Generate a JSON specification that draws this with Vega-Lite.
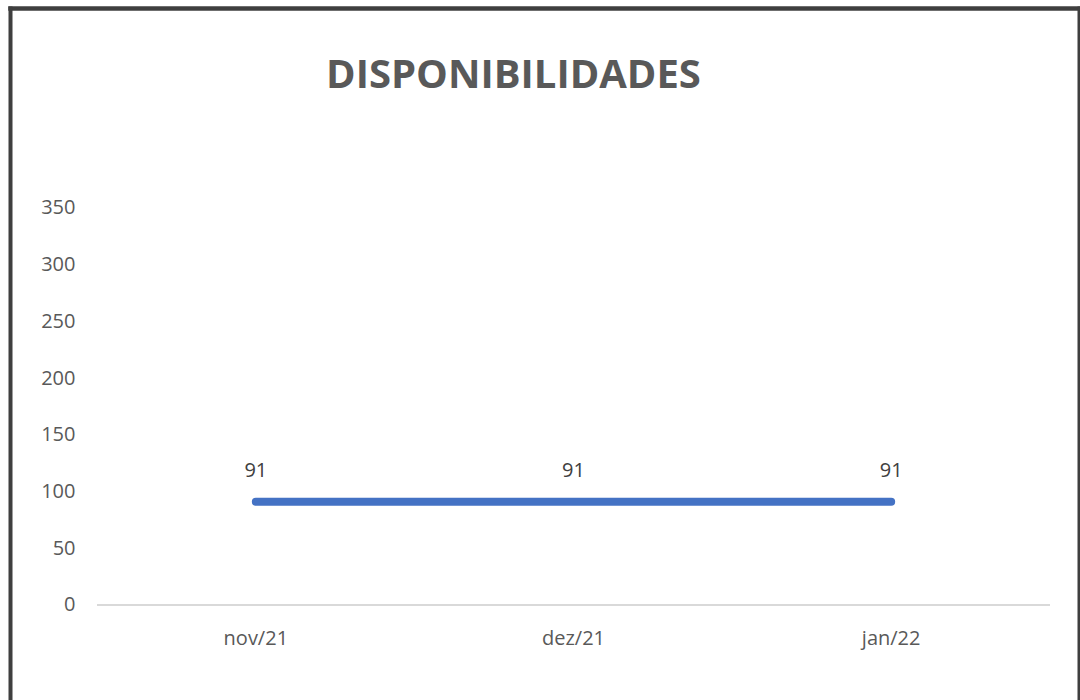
{
  "$schema": "https://vega.github.io/schema/vega-lite/v6.json",
  "width": 1069,
  "height": 692,
  "autosize": {"type": "none"},
  "padding": {"left": 10, "top": 8, "right": 1, "bottom": 0},
  "background": "white",
  "config": {"view": {"stroke": null}, "axis": {"grid": false}},
  "title": {
    "text": "DISPONIBILIDADES",
    "font": "Open Sans",
    "fontSize": 40,
    "fontWeight": "bold",
    "color": "#595959",
    "anchor": "middle",
    "frame": "group",
    "dx": -31,
    "offset": -120,
    "baseline": "alphabetic"
  },
  "data": {
    "values": [
      {"mes": "nov/21", "valor": 91},
      {"mes": "dez/21", "valor": 91},
      {"mes": "jan/22", "valor": 91}
    ]
  },
  "layer": [
    {
      "data": {"values": [{"inicio": "nov/21", "fim": "jan/22", "zero": 0}]},
      "mark": {"type": "rule", "color": "#d9d9d9", "strokeWidth": 2},
      "encoding": {
        "x": {
          "field": "inicio",
          "type": "ordinal",
          "bandPosition": 0,
          "scale": {"type": "band", "domain": ["nov/21", "dez/21", "jan/22"], "paddingInner": 0, "paddingOuter": 0.18258, "align": 0.75},
          "axis": {"orient": "top", "title": null, "labels": false, "ticks": false, "domain": true, "domainColor": "#3f3f3f", "domainWidth": 4.5, "domainCap": "square"}
        },
        "x2": {"field": "fim", "bandPosition": 1},
        "y": {
          "field": "zero",
          "type": "quantitative",
          "scale": {"domain": [-83.75, 526.3], "nice": false, "zero": false},
          "axis": {"orient": "right", "title": null, "labels": false, "ticks": false, "domain": true, "domainColor": "#3f3f3f", "domainWidth": 4, "domainCap": "square"}
        }
      }
    },
    {
      "mark": {"type": "line", "color": "#4472C4", "strokeWidth": 8, "strokeCap": "round"},
      "encoding": {
        "x": {
          "field": "mes",
          "type": "ordinal",
          "sort": ["nov/21", "dez/21", "jan/22"],
          "axis": {"orient": "bottom", "title": null, "domain": false, "ticks": false, "tickSize": 0, "labelAngle": 0, "labelPadding": -62, "labelBaseline": "middle", "labelFont": "Open Sans", "labelFontSize": 20, "labelColor": "#595959"}
        },
        "y": {
          "field": "valor",
          "type": "quantitative",
          "axis": {"orient": "left", "title": null, "values": [0, 50, 100, 150, 200, 250, 300, 350], "domain": true, "domainColor": "#3f3f3f", "domainWidth": 4, "domainCap": "square", "ticks": false, "tickSize": 0, "labelPadding": -65, "labelFont": "Open Sans", "labelFontSize": 20, "labelColor": "#595959"}
        }
      }
    },
    {
      "mark": {"type": "text", "dy": -31, "font": "Open Sans", "fontSize": 20, "color": "#404040"},
      "encoding": {
        "x": {"field": "mes", "type": "ordinal", "sort": ["nov/21", "dez/21", "jan/22"], "axis": null},
        "y": {"field": "valor", "type": "quantitative", "axis": null},
        "text": {"field": "valor", "type": "quantitative"}
      }
    }
  ],
  "resolve": {"axis": {"x": "independent", "y": "independent"}}
}
